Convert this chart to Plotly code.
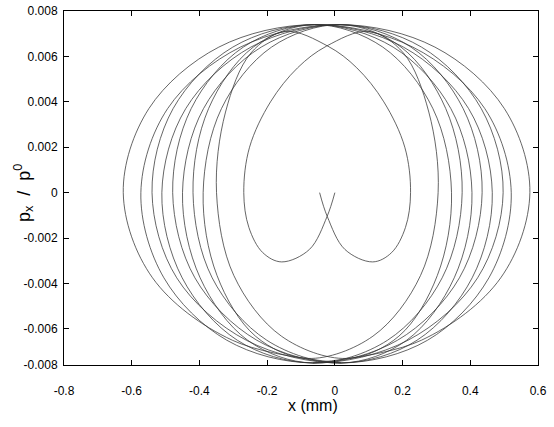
import plotly.graph_objects as go

# Trajectory A (starts at origin, turns clockwise)
a_x = [0.000, -0.023, -0.075, -0.157, -0.213, -0.254, -0.269,
       -0.252, -0.190, -0.110, -0.025, 0.100, 0.2025, 0.2775, 0.305,
       0.253, 0.1125, -0.080, -0.2345, -0.348, -0.389,
       -0.335, -0.187, 0.015, 0.1955, 0.3276, 0.376,
       0.317, 0.1555, -0.065, -0.2575, -0.398, -0.450,
       -0.388, -0.2175, 0.015, 0.225, 0.379, 0.435,
       0.368, 0.185, -0.065, -0.288, -0.451, -0.511,
       -0.4405, -0.248, 0.015, 0.256, 0.4324, 0.497,
       0.4217, 0.216, -0.065, -0.319, -0.505, -0.573,
       -0.494, -0.279, 0.015, 0.2955, 0.5008, 0.576,
       0.490, 0.2555, -0.065]
a_px = [0.0, -0.00105, -0.0025, -0.00305, -0.00264, -0.00153, 0.0,
        0.0020, 0.0040, 0.0055, 0.00645, 0.0071, 0.00615, 0.00355, 0.0,
        -0.00365, -0.00632, -0.0073, -0.00632, -0.00365, 0.0,
        0.0037, 0.00641, 0.0074, 0.00641, 0.0037, 0.0,
        -0.00375, -0.0065, -0.0075, -0.0065, -0.00375, 0.0,
        0.0037, 0.00641, 0.0074, 0.00641, 0.0037, 0.0,
        -0.00375, -0.0065, -0.0075, -0.0065, -0.00375, 0.0,
        0.0037, 0.00641, 0.0074, 0.00641, 0.0037, 0.0,
        -0.00375, -0.0065, -0.0075, -0.0065, -0.00375, 0.0,
        0.0037, 0.00641, 0.0074, 0.00641, 0.0037, 0.0,
        -0.00375, -0.0065, -0.0075]

# Trajectory B (starts near x=-0.045, turns counter-clockwise)
b_x = [-0.045, -0.0224, 0.0296, 0.1116, 0.1676, 0.2086, 0.2236,
       0.2066, 0.1446, 0.0646, -0.0204, -0.1454, -0.2479, -0.3229, -0.3495,
       -0.2984, -0.1579, 0.0346, 0.1891, 0.3026, 0.3446,
       0.2896, 0.1416, -0.0604, -0.2409, -0.373, -0.419,
       -0.3624, -0.2009, 0.0196, 0.2121, 0.3526, 0.405,
       0.3426, 0.1721, -0.0604, -0.2704, -0.4244, -0.479,
       -0.4134, -0.2304, 0.0196, 0.2426, 0.4056, 0.465,
       0.3951, 0.2026, -0.0604, -0.3014, -0.4778, -0.540,
       -0.4671, -0.2614, 0.0196, 0.2736, 0.455, 0.521,
       0.443, 0.2303, -0.0604, -0.3427, -0.5494, -0.625,
       -0.5386, -0.3027, 0.0196]
b_px = list(a_px)

x_ticks = [-0.8, -0.6, -0.4, -0.2, 0.0, 0.2, 0.4, 0.6]
x_tick_text = ["-0.8", "-0.6", "-0.4", "-0.2", "0", "0.2", "0.4", "0.6"]
y_ticks = [0.008, 0.006, 0.004, 0.002, 0.0, -0.002, -0.004, -0.006, -0.00759]
y_tick_text = ["0.008", "0.006", "0.004", "0.002", "0", "-0.002", "-0.004", "-0.006", "-0.008"]

line_style = dict(color="#333333", width=0.75, shape="spline", smoothing=1.0)

fig = go.Figure()
fig.add_trace(go.Scatter(x=a_x, y=a_px, mode="lines", line=line_style, showlegend=False, hoverinfo="skip"))
fig.add_trace(go.Scatter(x=b_x, y=b_px, mode="lines", line=line_style, showlegend=False, hoverinfo="skip"))

font_family = "Liberation Sans, Arial, Helvetica, sans-serif"
axis_common = dict(showline=True, linecolor="black", linewidth=1, mirror="allticks",
                   ticks="inside", ticklen=5, tickcolor="black", tickwidth=1,
                   showgrid=False, zeroline=False, automargin=False,
                   tickfont=dict(family=font_family, size=12, color="black"))

fig.update_xaxes(range=[-0.8, 0.6], tickvals=x_ticks, ticktext=x_tick_text,
                 ticklabelstandoff=15, **axis_common)
fig.update_yaxes(range=[-0.00759, 0.008], tickvals=y_ticks, ticktext=y_tick_text,
                 ticklabelstandoff=3, **axis_common)

fig.update_layout(
    width=554, height=427,
    margin=dict(l=64, r=16, t=11, b=62, autoexpand=False),
    paper_bgcolor="white", plot_bgcolor="white",
    font=dict(family=font_family, color="black"),
    annotations=[
        dict(text="x (mm)", xref="paper", yref="paper", x=0.525, y=0, yshift=-40,
             xanchor="center", yanchor="middle", showarrow=False,
             font=dict(family=font_family, size=16, color="black")),
        dict(text="p<sub>x</sub>\u00a0\u00a0/\u00a0\u00a0p<sup>0</sup>", xref="paper", yref="paper",
             x=0, xshift=-40, y=0.486, xanchor="center", yanchor="middle", textangle=-90,
             showarrow=False, font=dict(family=font_family, size=18, color="black")),
    ],
)

fig.write_html("out.html", config={"displayModeBar": False},
               post_script="document.body.style.margin='0';document.body.style.overflow='hidden';")
